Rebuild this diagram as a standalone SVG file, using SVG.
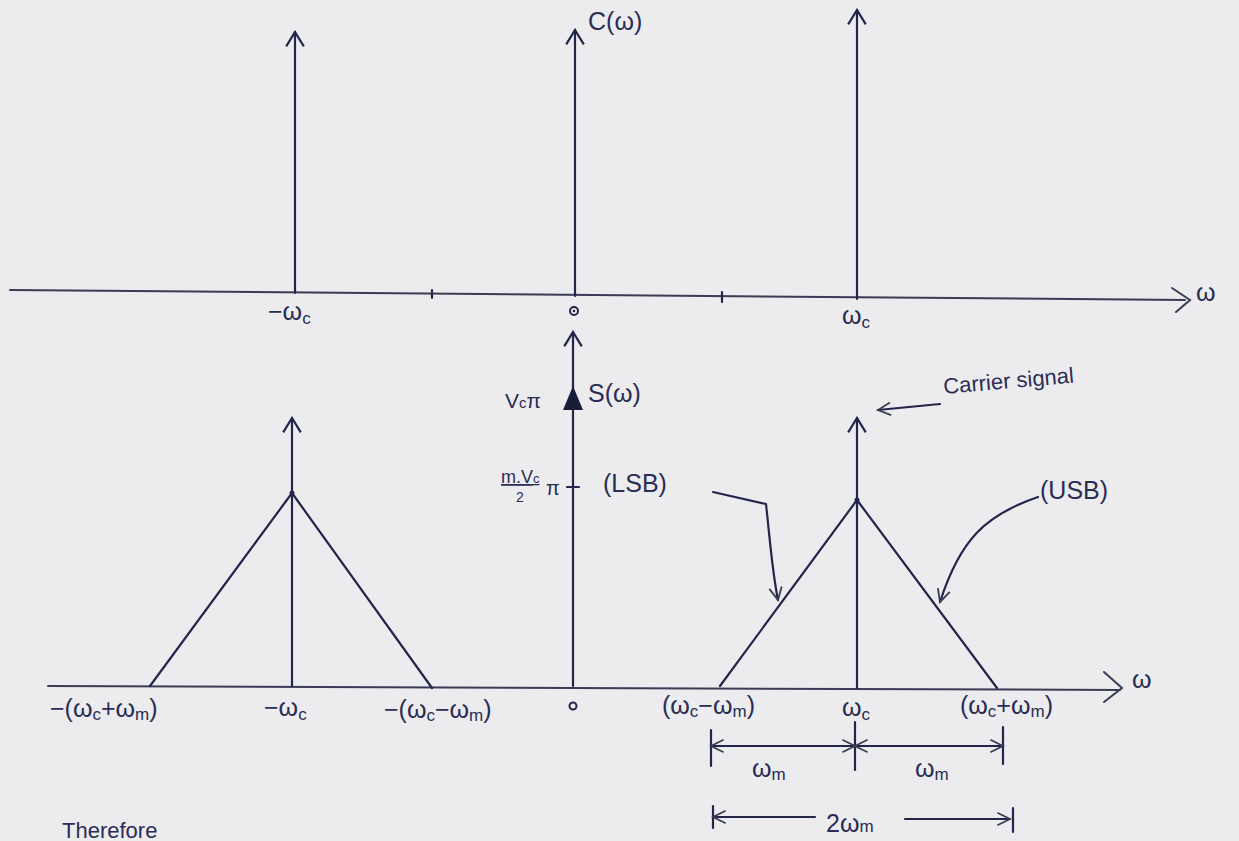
<svg xmlns="http://www.w3.org/2000/svg" width="1239" height="841" viewBox="0 0 1239 841">
<defs>
<style>
.ln{stroke:#23264a;stroke-width:2.2;fill:none;stroke-linecap:round;stroke-linejoin:round}
.ax{stroke:#3a3c55;stroke-width:2;fill:none;stroke-linecap:round}
.t{font-family:"Liberation Sans",Arial,sans-serif;font-size:25px;fill:#2a2d55}
.s{font-size:17px}
</style>
<marker id="ah" viewBox="0 0 20 20" refX="18" refY="10" markerWidth="22" markerHeight="22" markerUnits="userSpaceOnUse" orient="auto-start-reverse">
<path d="M5,2 L18,10 L5,18" fill="none" stroke="#23264a" stroke-width="2"/>
</marker>
<marker id="ar" viewBox="0 0 20 20" refX="18" refY="10" markerWidth="18" markerHeight="18" markerUnits="userSpaceOnUse" orient="auto-start-reverse">
<path d="M4,3 L18,10 L4,17" fill="none" stroke="#3a3c55" stroke-width="2"/>
</marker>
</defs>
<rect width="1239" height="841" fill="#ececee"/>

<g id="top-axis">
<line class="ax" x1="10" y1="290" x2="1185" y2="300"/>
<path class="ax" d="M1172,288 L1190,300 L1176,312"/>
<text class="t" x="1196" y="301">ω</text>
<line class="ln" x1="432" y1="290" x2="432" y2="298"/>
<line class="ln" x1="722" y1="292" x2="722" y2="302"/>
</g>

<g id="top-impulses">
<line class="ln" x1="295" y1="293" x2="295" y2="32" marker-end="url(#ah)"/>
<line class="ln" x1="575" y1="296" x2="575" y2="30" marker-end="url(#ah)"/>
<line class="ln" x1="857" y1="299" x2="857" y2="10" marker-end="url(#ah)"/>
<text class="t" x="588" y="30">C(ω)</text>
<text class="t" x="268" y="320">−ω<tspan class="s" dy="4">c</tspan></text>
<text class="t" x="842" y="324">ω<tspan class="s" dy="4">c</tspan></text>
<circle cx="574" cy="311" r="4" fill="none" stroke="#23264a" stroke-width="2"/>
<circle cx="574" cy="311" r="1.3" fill="#23264a"/>
</g>

<g id="bottom-axis">
<line class="ax" x1="48" y1="686" x2="1120" y2="690"/>
<path class="ax" d="M1104,672 L1122,688 L1104,702"/>
<text class="t" x="1132" y="688">ω</text>
</g>

<g id="left-band">
<line class="ln" x1="292" y1="686" x2="292" y2="418" marker-end="url(#ah)"/>
<path class="ln" d="M150,686 L292,493 L432,688"/>
<circle cx="292" cy="493" r="2.5" fill="#23264a"/>
</g>

<g id="center-axis">
<line class="ln" x1="573" y1="686" x2="573" y2="332" marker-end="url(#ah)"/>
<path d="M573,386 L583,410 L563,410 Z" fill="#1a1c3a"/>
<line class="ln" x1="567" y1="487" x2="579" y2="487"/>
<text class="t" x="505" y="408" style="font-size:21px">V<tspan style="font-size:15px">c</tspan>π</text>
<text class="t" x="588" y="402">S(ω)</text>
<text class="t" x="501" y="483" style="font-size:18px" text-decoration="underline">m.V<tspan style="font-size:13px">c</tspan></text>
<text class="t" x="516" y="502" style="font-size:14px">2</text>
<text class="t" x="546" y="495" style="font-size:20px">π</text>
<circle cx="573" cy="706" r="3.5" fill="none" stroke="#23264a" stroke-width="2"/>
</g>

<g id="right-band">
<line class="ln" x1="857" y1="688" x2="857" y2="418" marker-end="url(#ah)"/>
<path class="ln" d="M720,686 L857,500 L997,688"/>
<circle cx="857" cy="500" r="2.5" fill="#23264a"/>
</g>

<g id="annotations">
<text class="t" x="944" y="394" transform="rotate(-5 944 394)" style="font-size:22px">Carrier signal</text>
<path class="ln" d="M940,404 L878,410" marker-end="url(#ar)"/>
<text class="t" x="603" y="492">(LSB)</text>
<path class="ln" d="M713,492 L766,504 C770,540 772,570 778,600" marker-end="url(#ar)"/>
<text class="t" x="1040" y="499">(USB)</text>
<path class="ln" d="M1038,497 C985,515 960,540 940,602" marker-end="url(#ar)"/>
</g>

<g id="bottom-labels">
<text class="t" x="50" y="717">−(ω<tspan class="s" dy="3">c</tspan><tspan dy="-3">+ω</tspan><tspan class="s" dy="3">m</tspan><tspan dy="-3">)</tspan></text>
<text class="t" x="264" y="716">−ω<tspan class="s" dy="4">c</tspan></text>
<text class="t" x="384" y="718">−(ω<tspan class="s" dy="3">c</tspan><tspan dy="-3">−ω</tspan><tspan class="s" dy="3">m</tspan><tspan dy="-3">)</tspan></text>
<text class="t" x="662" y="714">(ω<tspan class="s" dy="3">c</tspan><tspan dy="-3">−ω</tspan><tspan class="s" dy="3">m</tspan><tspan dy="-3">)</tspan></text>
<text class="t" x="842" y="716">ω<tspan class="s" dy="4">c</tspan></text>
<text class="t" x="960" y="714">(ω<tspan class="s" dy="3">c</tspan><tspan dy="-3">+ω</tspan><tspan class="s" dy="3">m</tspan><tspan dy="-3">)</tspan></text>
</g>

<g id="dimensions">
<line class="ln" x1="711" y1="730" x2="711" y2="766"/>
<line class="ln" x1="855" y1="722" x2="855" y2="770"/>
<line class="ln" x1="1003" y1="727" x2="1003" y2="764"/>
<line class="ln" x1="711" y1="746" x2="855" y2="746" marker-start="url(#ar)" marker-end="url(#ar)"/>
<line class="ln" x1="855" y1="746" x2="1003" y2="746" marker-start="url(#ar)" marker-end="url(#ar)"/>
<text class="t" x="752" y="777">ω<tspan class="s" dy="3">m</tspan></text>
<text class="t" x="915" y="777">ω<tspan class="s" dy="3">m</tspan></text>
<line class="ln" x1="713" y1="806" x2="713" y2="828"/>
<line class="ln" x1="713" y1="817" x2="815" y2="817" marker-start="url(#ar)"/>
<text class="t" x="826" y="832">2ω<tspan class="s">m</tspan></text>
<line class="ln" x1="905" y1="819" x2="1010" y2="819" marker-end="url(#ar)"/>
<line class="ln" x1="1013" y1="808" x2="1013" y2="832"/>
</g>

<text class="t" x="62" y="838" style="font-size:22px">Therefore</text>
</svg>
